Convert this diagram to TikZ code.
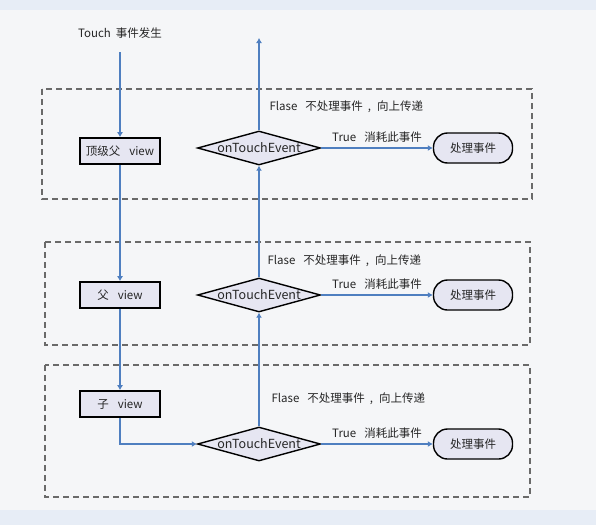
\documentclass[tikz,border=0pt]{standalone}
\usepackage{fontspec}
\setmainfont{Noto Sans CJK SC}
\usetikzlibrary{shapes.geometric, arrows.meta}
\definecolor{flowblue}{HTML}{4F7FC0}
\definecolor{boxfill}{HTML}{E6E6F2}
\definecolor{groupgray}{HTML}{6A6A6A}
\definecolor{paper}{HTML}{F5F6F8}
\definecolor{strip}{HTML}{E7EDF6}

\begin{document}
\begin{tikzpicture}[x = 1pt, y = -1pt,
    every node/.style = {font = \fontsize{11.5}{13}\selectfont, text = black!85},
    viewbox/.style = {draw, line width = 1.6pt, fill = boxfill, minimum width = 80pt,
      minimum height = 26pt, inner sep = 0pt},
    decision/.style = {draw, diamond, line width = 1.4pt, fill = boxfill, aspect = 3.6,
      minimum width = 123pt, minimum height = 34pt, inner sep = 0pt,
      font = \fontsize{12.5}{13}\selectfont},
    handler/.style = {draw, rounded corners = 14pt, line width = 1.4pt, fill = boxfill,
      minimum width = 79pt, minimum height = 30pt},
    flow/.style = {draw = flowblue, line width = 1.6pt, -{Latex[length = 5pt, width = 6pt]}},
    group/.style = {draw = groupgray, line width = 1.2pt, dash pattern = on 6pt off 4pt}]
    \fill [paper] (0,0) rectangle (596,525);
    \fill [strip] (0,0) rectangle (596,10);
    \fill [strip] (0,510) rectangle (596,525);
    \useasboundingbox (0,0) rectangle (596,525);
    \draw [group] (42,89) rectangle (532,199);
    \draw [group] (45,242) rectangle (530,345);
    \draw [group] (45,365) rectangle (530,497);
    \node (touch) at (120,33) {Touch\hspace{5pt}事件发生};
    \coordinate (start) at (120,52);
    \coordinate (out) at (259,38);
    \node [viewbox] (top) at (120,151) {顶级父\hspace{9pt}view};
    \node [decision] (d1) at (259,148) {onTouchEvent};
    \node [handler] (h1) at (473,148) {处理事件};
    \node [viewbox] (parent) at (120,295) {父\hspace{9pt}view};
    \node [decision] (d2) at (259,295) {onTouchEvent};
    \node [handler] (h2) at (473,295) {处理事件};
    \node [viewbox] (child) at (120,404) {子\hspace{9pt}view};
    \node [decision] (d3) at (259,444) {onTouchEvent};
    \node [handler] (h3) at (473,444) {处理事件};
    \node [anchor = west] (up1) at (266,107) {Flase\hspace{8pt}不处理事件\hspace{5pt},\hspace{6pt}向上传递};
    \node [anchor = west] (up2) at (264,261) {Flase\hspace{8pt}不处理事件\hspace{5pt},\hspace{6pt}向上传递};
    \node [anchor = west] (up3) at (268,399) {Flase\hspace{8pt}不处理事件\hspace{5pt},\hspace{6pt}向上传递};
    \draw [flow] (start) -- (top);
    \draw [flow] (top) -- (parent);
    \draw [flow] (parent) -- (child);
    \draw [flow] (child) |- (d3);
    \draw [flow] (d3) -- (d2);
    \draw [flow] (d2) -- (d1);
    \draw [flow] (d1) -- (out);
    \draw [flow] (d1) -- node [above = 1] (t1) {True\hspace{8pt}消耗此事件} (h1);
    \draw [flow] (d2) -- node [above = 1] (t2) {True\hspace{8pt}消耗此事件} (h2);
    \draw [flow] (d3) -- node [above = 1] (t3) {True\hspace{8pt}消耗此事件} (h3);
  \end{tikzpicture}
\end{document}
